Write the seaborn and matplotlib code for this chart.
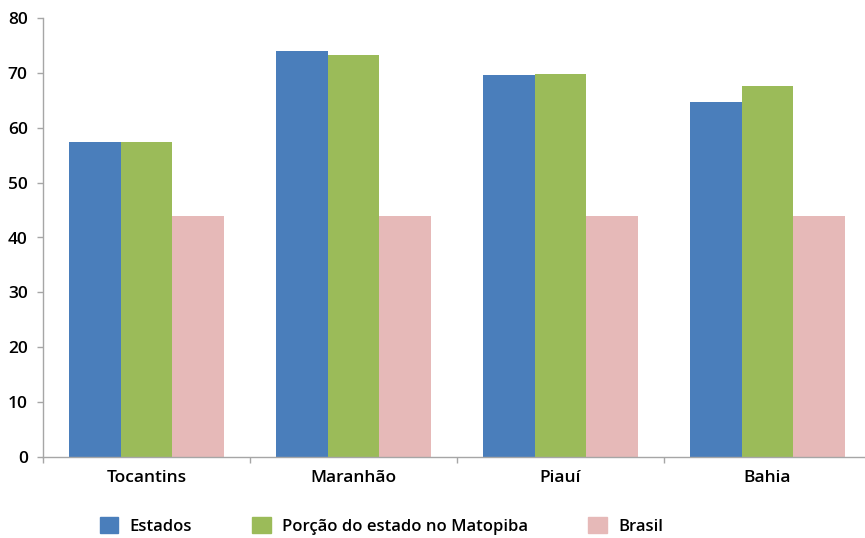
import numpy as np
import pandas as pd
import matplotlib
matplotlib.use("Agg")
import matplotlib.pyplot as plt
import seaborn as sns

# Data
estados = ["Tocantins", "Maranhão", "Piauí", "Bahia"]
series_names = ["Estados", "Porção do estado no Matopiba", "Brasil"]
valores_estados = [57.4, 74.0, 69.6, 64.7]
valores_matopiba = [57.4, 73.2, 69.8, 67.6]
valores_brasil = [43.9, 43.9, 43.9, 43.9]
yticks = [0, 10, 20, 30, 40, 50, 60, 70, 80]

colors = ["#4a7ebb", "#9bbb59", "#e6b9b8"]

df = pd.DataFrame({
    "estado": estados * 3,
    "serie": [series_names[0]] * 4 + [series_names[1]] * 4 + [series_names[2]] * 4,
    "valor": valores_estados + valores_matopiba + valores_brasil,
})

sns.set_style("white")
plt.rcParams["font.family"] = ["Open Sans", "DejaVu Sans"]
plt.rcParams["text.color"] = "black"
plt.rcParams["xtick.color"] = "#a6a6a6"
plt.rcParams["ytick.color"] = "#a6a6a6"
plt.rcParams["xtick.labelcolor"] = "black"
plt.rcParams["ytick.labelcolor"] = "black"

fig = plt.figure(figsize=(8.65, 5.38), dpi=100)
ax = fig.add_axes([43 / 865, 1 - 457 / 538, 828 / 865, 439 / 538])

sns.barplot(data=df, x="estado", y="valor", hue="serie", palette=colors,
            width=0.75, saturation=1, linewidth=0, ax=ax, legend=False)

ax.set_xlim(-0.5, 3.5)
ax.set_ylim(0, 80)
ax.set_yticks(yticks)
ax.set_yticklabels([str(t) for t in yticks], fontsize=12.5, fontweight="semibold")
ax.set_xticks(range(len(estados)))
ax.set_xticklabels(estados, fontsize=12.5, fontweight="semibold")
ax.set_xticks(np.arange(-0.5, 4, 1), minor=True)
ax.tick_params(axis="x", which="major", bottom=False, length=0, pad=9)
ax.tick_params(axis="x", which="minor", bottom=True, length=4, width=1)
ax.tick_params(axis="y", left=True, length=4, width=1, pad=7)
ax.set_xlabel("")
ax.set_ylabel("")
sns.despine(ax=ax)
for s in ["left", "bottom"]:
    ax.spines[s].set_color("#a6a6a6")
    ax.spines[s].set_linewidth(1)

handles = [plt.Rectangle((0, 0), 1, 1, color=c) for c in colors]
fig.legend(handles, series_names, loc="lower center", bbox_to_anchor=(0.441, -0.022),
           ncol=3, frameon=False, handlelength=1.1, handleheight=1.1,
           columnspacing=3.6, handletextpad=0.7,
           prop={"size": 12, "weight": "semibold"})

fig.savefig("out.png", dpi=100)
